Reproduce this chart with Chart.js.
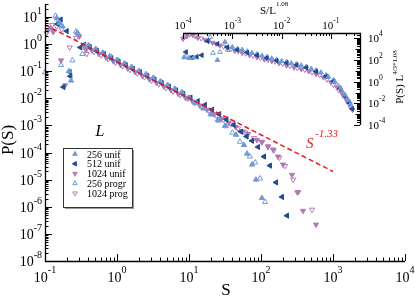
<!DOCTYPE html>
<html>
<head>
<meta charset="utf-8">
<script src="https://cdn.jsdelivr.net/npm/chart.js@4.4.0/dist/chart.umd.min.js"></script>
<style>
  html, body { margin: 0; padding: 0; background: #fff; }
  #wrap { position: relative; width: 415px; height: 297px; }
  #wrap canvas { position: absolute; left: 0; top: 0; }
</style>
</head>
<body>
<div id="wrap">
  <canvas id="mainChart" width="415" height="297"></canvas>
  <canvas id="insetChart" width="415" height="297"></canvas>
</div>
<script>
// ---- main plot: P(S) vs S ----
const seriesNames = ['256 unif', '512 unif', '1024 unif', '256 progr', '1024 prog'];

const s256u = [0.12, 0.145, 0.16, 0.175, 0.215, 0.23, 0.28, 0.36, 0.40, 0.50, 0.63, 0.79, 1.0, 1.26, 1.58, 2.0, 2.51, 3.16, 3.98, 5.01, 6.31, 7.94, 10, 12.6, 15.8, 20, 25.1, 31.6, 45, 58, 64, 75, 85, 103];
const p256u = [3.8, 9.0, 6.0, 4.5, 0.10, 0.045, 2.6, 0.85, 0.88, 0.64, 0.47, 0.35, 0.26, 0.19, 0.14, 0.10, 0.076, 0.055, 0.041, 0.030, 0.0222, 0.0165, 0.0105, 0.0069, 0.0043, 0.0026, 0.0016, 9.7e-4, 4.5e-4, 1.9e-4, 9.1e-5, 3.6e-5, 1.0e-5, 2.1e-6];

const s512u = [0.15, 0.165, 0.18, 0.2, 0.22, 0.225, 0.31, 0.35, 0.417, 0.525, 0.661, 0.832, 1.05, 1.32, 1.66, 2.09, 2.63, 3.31, 4.17, 5.25, 6.61, 8.32, 10.5, 13.2, 16.6, 20.9, 26.3, 33.1, 41.7, 52.5, 63, 75, 91, 110, 133, 162, 196, 230];
const p512u = [5.5, 8.0, 0.026, 3.0, 0.093, 0.065, 0.75, 0.95, 0.77, 0.56, 0.42, 0.30, 0.225, 0.166, 0.121, 0.091, 0.066, 0.049, 0.036, 0.0265, 0.0194, 0.0144, 0.0105, 0.0078, 0.0057, 0.0038, 0.0026, 0.00166, 0.00104, 5.9e-4, 3.9e-4, 2.7e-4, 1.6e-4, 7.1e-5, 3.3e-5, 7.9e-6, 2.3e-6, 4.7e-7];

const s1024u = [0.11, 0.13, 0.167, 0.19, 0.30, 0.37, 0.45, 0.56, 0.71, 0.89, 1.12, 1.41, 1.78, 2.24, 2.82, 3.55, 4.47, 5.62, 7.08, 8.91, 11.2, 14.1, 17.8, 22.4, 28.2, 35.5, 44.7, 56.2, 66, 88, 103, 125, 147, 172, 202, 270, 320, 383, 580];
const p1024u = [3.2, 2.8, 0.25, 0.03, 1.9, 0.6, 0.58, 0.43, 0.315, 0.233, 0.171, 0.126, 0.093, 0.068, 0.050, 0.037, 0.0272, 0.020, 0.0148, 0.0106, 0.0076, 0.0054, 0.0038, 0.0026, 0.00178, 0.00125, 8.6e-4, 6.0e-4, 4.8e-4, 2.9e-4, 2.4e-4, 1.7e-4, 1.3e-4, 7.1e-5, 3.6e-5, 1.5e-5, 3.4e-6, 7.1e-7, 2.2e-7];

const s256p = [0.10, 0.14, 0.155, 0.167, 0.24, 0.27, 0.29, 0.33, 0.41, 0.52, 0.65, 0.82, 1.03, 1.30, 1.63, 2.05, 2.58, 3.25, 4.09, 5.15, 6.48, 8.16, 10.3, 12.9, 16.3, 20.5, 25.8, 32.5, 40, 51, 70, 83, 97, 114];
const p256p = [0.09, 11, 7.5, 0.17, 0.25, 2.9, 2.4, 0.43, 0.86, 0.63, 0.467, 0.342, 0.253, 0.185, 0.137, 0.101, 0.0745, 0.0548, 0.0404, 0.0297, 0.0219, 0.0161, 0.0101, 0.0066, 0.0042, 0.0025, 0.0015, 9.3e-4, 5.4e-4, 2.5e-4, 7.1e-5, 4.3e-5, 1.1e-5, 1.5e-6];

const s1024p = [0.105, 0.125, 0.145, 0.17, 0.22, 0.27, 0.38, 0.479, 0.603, 0.759, 0.955, 1.2, 1.51, 1.91, 2.4, 3.02, 3.8, 4.79, 6.03, 7.59, 9.55, 12.0, 15.1, 19.1, 24.0, 30.2, 38.0, 47.9, 60.3, 80, 103, 125, 150, 180, 215, 280, 330, 511];
const p1024p = [2.5, 5.0, 4.5, 3.5, 0.75, 1.7, 0.43, 0.52, 0.383, 0.282, 0.207, 0.153, 0.112, 0.083, 0.061, 0.045, 0.033, 0.0243, 0.0179, 0.0132, 0.0095, 0.0068, 0.0048, 0.0034, 0.0023, 0.0016, 0.0011, 7.7e-4, 5.4e-4, 3.4e-4, 2.5e-4, 1.6e-4, 1.2e-4, 6.5e-5, 3.2e-5, 1.0e-5, 3.5e-6, 7.8e-7];

// dashed guide S^-1.33
const fitS = [0.1, 1000];
const fitP = [5.1, 2.0e-5];

// ---- inset: P(S) L^(4/3*1.08) vs S/L^1.08 ----
const x256u = [1.05e-4, 1.32e-4, 1.66e-4, 5.0e-4, 7.1e-4, 1.0e-3, 1.58e-3, 2.5e-3, 4.0e-3, 6.3e-3, 0.010, 0.0158, 0.025, 0.040, 0.063, 0.089, 0.12, 0.158, 0.19, 0.224, 0.25];
const y256u = [178, 158, 166, 100, 4700, 1580, 890, 450, 250, 141, 79, 50, 32, 15.8, 7.1, 2.8, 1.0, 0.25, 0.063, 0.020, 0.0079];

const x512u = [1.15e-4, 1.51e-4, 1.9e-4, 2.4e-4, 3.16e-4, 5.0e-4, 7.9e-4, 1.26e-3, 2.0e-3, 3.16e-3, 5.0e-3, 7.9e-3, 0.0126, 0.020, 0.0316, 0.050, 0.079, 0.112, 0.151, 0.19, 0.234, 0.27];
const y512u = [550, 178, 200, 282, 5600, 3160, 1580, 891, 501, 282, 158, 89, 56, 35.5, 20, 8.9, 3.16, 1.12, 0.224, 0.05, 0.0112, 0.00316];

const x1024u = [1.0e-4, 1.2e-4, 1.58e-4, 2.0e-4, 2.82e-4, 3.98e-4, 5.62e-4, 7.9e-4, 1.12e-3, 1.58e-3, 2.24e-3, 3.16e-3, 4.47e-3, 6.3e-3, 8.9e-3, 0.0126, 0.0178, 0.0251, 0.0355, 0.050, 0.0708, 0.10, 0.132, 0.166, 0.20, 0.24, 0.275];
const y1024u = [8900, 15800, 20000, 11200, 7100, 3980, 2240, 1260, 708, 447, 282, 178, 112, 79, 50, 31.6, 20, 14.1, 8.9, 5.0, 2.5, 0.89, 0.316, 0.10, 0.028, 0.0079, 0.0025];

const x256p = [1.12e-4, 1.41e-4, 3.55e-4, 4.07e-4, 5.62e-4, 8.13e-4, 1.26e-3, 2.0e-3, 3.16e-3, 5.0e-3, 7.9e-3, 0.0126, 0.020, 0.0316, 0.050, 0.079, 0.112, 0.141, 0.174, 0.209, 0.24];
const y256p = [200, 151, 13500, 447, 550, 851, 1120, 631, 355, 200, 112, 71, 45, 25, 11.2, 4.0, 1.41, 0.45, 0.10, 0.032, 0.0126];

const x1024p = [1.07e-4, 1.35e-4, 1.78e-4, 2.34e-4, 3.3e-4, 4.68e-4, 6.6e-4, 9.3e-4, 1.32e-3, 1.86e-3, 2.63e-3, 3.72e-3, 5.25e-3, 7.4e-3, 0.0105, 0.0148, 0.0209, 0.0295, 0.0417, 0.0589, 0.083, 0.112, 0.145, 0.178, 0.214, 0.251];
const y1024p = [12600, 22400, 15800, 10000, 5600, 3160, 1780, 1000, 631, 398, 251, 158, 100, 71, 45, 28, 17.8, 12.6, 7.1, 4.0, 1.58, 0.5, 0.158, 0.05, 0.0141, 0.004];

// ---- styling ----
const LIGHT = '#6e9bd8';
const DARK = '#1f4a94';
const MAUVE = '#b07bb5';
const RED = '#e31b23';
const FONT = '"Liberation Serif", "DejaVu Serif", serif';

const looks = [
  { color: LIGHT, filled: true,  rot: 0 },
  { color: DARK,  filled: true,  rot: -90 },
  { color: MAUVE, filled: true,  rot: 180 },
  { color: LIGHT, filled: false, rot: 0 },
  { color: MAUVE, filled: false, rot: 180 }
];

function pts(xs, ys) {
  return xs.map((v, i) => ({ x: v, y: ys[i] }));
}

function markerSet(i, xs, ys, r) {
  const lk = looks[i];
  return {
    label: seriesNames[i],
    data: pts(xs, ys),
    showLine: false,
    clip: false,
    pointStyle: 'triangle',
    pointRotation: lk.rot,
    pointRadius: r,
    pointHoverRadius: r,
    pointBorderWidth: 1,
    pointBorderColor: lk.color,
    pointBackgroundColor: lk.filled ? lk.color : 'rgba(0,0,0,0)'
  };
}

function logTicks(scale) {
  const out = [];
  const lo = Math.floor(Math.log10(scale.min) + 1e-9);
  const hi = Math.ceil(Math.log10(scale.max) - 1e-9);
  for (let d = lo; d <= hi; d++) {
    for (let m = 1; m <= 9; m++) {
      const v = m * Math.pow(10, d);
      if (v < scale.min * 0.999 || v > scale.max * 1.001) continue;
      out.push({ v: v, major: m === 1, exp: d });
    }
  }
  return out;
}

// "10" with a raised exponent; y is the baseline of "10"
function powText(ctx, exp, x, y, size, expSize, raise, align) {
  ctx.font = size + 'px ' + FONT;
  const w1 = ctx.measureText('10').width;
  ctx.font = expSize + 'px ' + FONT;
  const w2 = ctx.measureText(exp).width;
  let left = x;
  if (align === 'center') left = x - (w1 + w2) / 2;
  if (align === 'right') left = x - w1 - w2;
  ctx.textAlign = 'left';
  ctx.textBaseline = 'alphabetic';
  ctx.font = size + 'px ' + FONT;
  ctx.fillText('10', left, y);
  ctx.font = expSize + 'px ' + FONT;
  ctx.fillText(exp, left + w1, y - raise);
}

const mainDecor = {
  id: 'mainDecor',
  afterDatasetsDraw(chart) {
    const ctx = chart.ctx, a = chart.chartArea;
    const xs = chart.scales.x, ys = chart.scales.y;
    ctx.save();
    ctx.strokeStyle = '#000';
    ctx.fillStyle = '#000';

    ctx.lineWidth = 1.3;
    ctx.beginPath();
    ctx.moveTo(a.left + 0.5, a.top);
    ctx.lineTo(a.left + 0.5, a.bottom + 0.5);
    ctx.lineTo(a.right, a.bottom + 0.5);
    ctx.stroke();

    ctx.lineWidth = 1;
    ctx.beginPath();
    logTicks(xs).forEach(t => {
      const px = Math.round(xs.getPixelForValue(t.v)) + 0.5;
      ctx.moveTo(px, a.bottom);
      ctx.lineTo(px, a.bottom - (t.major ? 7 : 3.5));
    });
    logTicks(ys).forEach(t => {
      const py = Math.round(ys.getPixelForValue(t.v)) + 0.5;
      ctx.moveTo(a.left, py);
      ctx.lineTo(a.left + (t.major ? 7 : 3.5), py);
    });
    ctx.stroke();

    logTicks(xs).filter(t => t.major).forEach(t => {
      powText(ctx, String(t.exp), xs.getPixelForValue(t.v), a.bottom + 21, 14, 10, 9, 'center');
    });
    logTicks(ys).filter(t => t.major).forEach(t => {
      powText(ctx, String(t.exp), a.left - 3, ys.getPixelForValue(t.v) + 5, 14, 10, 8, 'right');
    });

    // axis titles
    ctx.font = '17px ' + FONT;
    ctx.textAlign = 'center';
    ctx.textBaseline = 'alphabetic';
    ctx.fillText('S', 226, 295);
    ctx.save();
    ctx.translate(13, 140);
    ctx.rotate(-Math.PI / 2);
    ctx.fillText('P(S)', 0, 0);
    ctx.restore();

    // L over the legend
    ctx.font = 'italic 16px ' + FONT;
    ctx.fillText('L', 100, 136);

    // legend box
    const bx = 63, by = 148, bw = 69, bh = 59;
    ctx.fillStyle = '#9a9a9a';
    ctx.fillRect(bx + bw, by + 2, 2, bh);
    ctx.fillRect(bx + 2, by + bh, bw, 2);
    ctx.strokeStyle = '#333';
    ctx.lineWidth = 1;
    ctx.strokeRect(bx + 0.5, by + 0.5, bw, bh);
    chart.data.datasets.slice(1).forEach((ds, i) => {
      const lk = looks[i];
      const cy = 154 + i * 9.8;
      ctx.fillStyle = lk.filled ? lk.color : '#fff';
      ctx.strokeStyle = lk.color;
      ctx.lineWidth = 1;
      Chart.helpers.drawPoint(ctx, { pointStyle: 'triangle', radius: 2.6, rotation: lk.rot, borderWidth: 1 }, 75, cy);
      ctx.fillStyle = '#000';
      ctx.font = '10px ' + FONT;
      ctx.textAlign = 'left';
      ctx.fillText(ds.label, 87, cy + 3.5);
    });

    // S^-1.33 label
    ctx.fillStyle = RED;
    ctx.textAlign = 'left';
    ctx.font = 'italic 15px ' + FONT;
    ctx.fillText('S', 306, 148);
    ctx.font = 'italic 11px ' + FONT;
    ctx.fillText('-1.33', 315, 137);
    ctx.restore();
  }
};

const insetDecor = {
  id: 'insetDecor',
  afterDatasetsDraw(chart) {
    const ctx = chart.ctx, a = chart.chartArea;
    const xs = chart.scales.x, ys = chart.scales.y;
    ctx.save();
    ctx.strokeStyle = '#000';
    ctx.fillStyle = '#000';

    ctx.lineWidth = 1.3;
    ctx.beginPath();
    ctx.moveTo(a.left, a.top + 0.5);
    ctx.lineTo(a.right + 0.5, a.top + 0.5);
    ctx.lineTo(a.right + 0.5, a.bottom);
    ctx.stroke();

    ctx.lineWidth = 1;
    ctx.beginPath();
    logTicks(xs).forEach(t => {
      const px = Math.round(xs.getPixelForValue(t.v)) + 0.5;
      ctx.moveTo(px, a.top);
      ctx.lineTo(px, a.top + (t.major ? 6 : 3));
    });
    logTicks(ys).forEach(t => {
      const py = Math.round(ys.getPixelForValue(t.v)) + 0.5;
      const len = t.major ? (t.exp % 2 === 0 ? 6 : 4.5) : 3;
      ctx.moveTo(a.right, py);
      ctx.lineTo(a.right - len, py);
    });
    ctx.stroke();

    logTicks(xs).filter(t => t.major).forEach(t => {
      powText(ctx, String(t.exp), xs.getPixelForValue(t.v), a.top - 4, 11, 7.5, 6, 'center');
    });
    logTicks(ys).filter(t => t.major && t.exp % 2 === 0).forEach(t => {
      powText(ctx, String(t.exp), a.right + 8, ys.getPixelForValue(t.v) + 4, 11, 7.5, 6, 'left');
    });

    // top title S/L^1.08
    ctx.textAlign = 'left';
    ctx.font = '11px ' + FONT;
    ctx.fillText('S/L', 260, 14);
    const w = ctx.measureText('S/L').width;
    ctx.font = '7px ' + FONT;
    ctx.fillText('1.08', 260 + w, 6);

    // right title P(S) L^(4/3*1.08)
    ctx.save();
    ctx.translate(403, 77);
    ctx.rotate(-Math.PI / 2);
    ctx.font = '11px ' + FONT;
    const m1 = ctx.measureText('P(S) L').width;
    ctx.font = '7px ' + FONT;
    const m2 = ctx.measureText('4/3*1.08').width;
    const start = -(m1 + m2) / 2;
    ctx.font = '11px ' + FONT;
    ctx.fillText('P(S) L', start, 0);
    ctx.font = '7px ' + FONT;
    ctx.fillText('4/3*1.08', start + m1, -6);
    ctx.restore();
    ctx.restore();
  }
};

const fitLine = {
  label: 'fit',
  data: pts(fitS, fitP),
  showLine: true,
  borderColor: RED,
  borderWidth: 1.5,
  borderDash: [5, 3],
  pointRadius: 0,
  pointHoverRadius: 0,
  clip: false
};

new Chart(document.getElementById('mainChart'), {
  type: 'scatter',
  data: {
    datasets: [
      fitLine,
      markerSet(0, s256u, p256u, 3),
      markerSet(1, s512u, p512u, 3),
      markerSet(2, s1024u, p1024u, 3),
      markerSet(3, s256p, p256p, 3),
      markerSet(4, s1024p, p1024p, 3)
    ]
  },
  options: {
    responsive: false,
    animation: false,
    events: [],
    layout: { padding: { left: 45, right: 10, top: 0, bottom: 36 } },
    plugins: { legend: { display: false }, tooltip: { enabled: false } },
    scales: {
      x: { type: 'logarithmic', min: 0.1, max: 1e4, display: false },
      y: { type: 'logarithmic', min: 1e-8, max: 30, display: false }
    }
  },
  plugins: [mainDecor]
});

new Chart(document.getElementById('insetChart'), {
  type: 'scatter',
  data: {
    datasets: [
      markerSet(0, x256u, y256u, 2.7),
      markerSet(1, x512u, y512u, 2.7),
      markerSet(2, x1024u, y1024u, 2.7),
      markerSet(3, x256p, y256p, 2.7),
      markerSet(4, x1024p, y1024p, 2.7)
    ]
  },
  options: {
    responsive: false,
    animation: false,
    events: [],
    layout: { padding: { left: 183, right: 55, top: 33, bottom: 172 } },
    plugins: { legend: { display: false }, tooltip: { enabled: false } },
    scales: {
      x: { type: 'logarithmic', min: 1e-4, max: 0.389, display: false },
      y: { type: 'logarithmic', min: 1e-4, max: 31623, display: false }
    }
  },
  plugins: [insetDecor]
});
</script>
</body>
</html>
